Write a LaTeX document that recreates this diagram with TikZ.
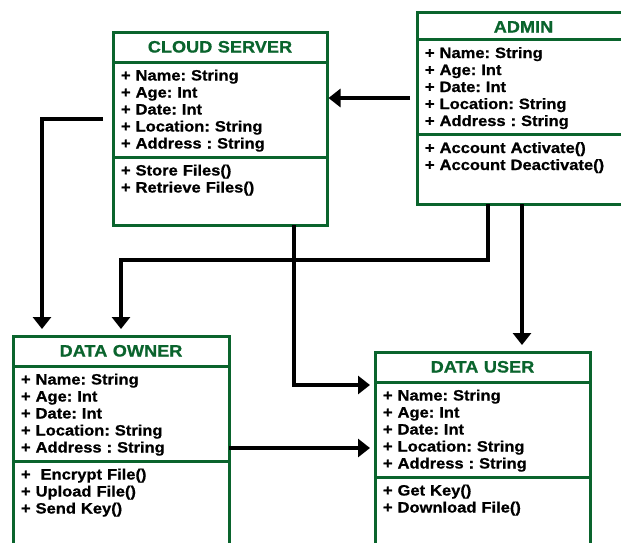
\documentclass[tikz,border=0pt]{standalone}
\usepackage{fontspec}
\setmainfont{Liberation Sans}[FakeStretch=1.1, BoldFeatures={FakeBold=0.8}]
\usetikzlibrary{arrows.meta,positioning}
\definecolor{umlgreen}{RGB}{10,100,45}
\frenchspacing

\begin{document}
\begin{tikzpicture}[
    x=1pt, y=-1pt,
    node distance=0pt,
    box/.style={draw=umlgreen, line width=3pt, outer sep=0pt, inner xsep=8pt, inner ysep=0pt, fill=white},
    classtitle/.style={box, align=center, text=umlgreen, font=\fontsize{16.5}{18}\selectfont\bfseries, text height=20.5pt, text depth=9.5pt},
    members/.style={box, align=left, font=\fontsize{15}{17}\selectfont\bfseries, text height=18.5pt, text depth=#1},
    link/.style={draw, line width=3.5pt, -{Triangle[width=18pt,length=12pt]}}
]
\useasboundingbox (0,0) rectangle (621,542);
\clip (0,0) rectangle (621,542);

% cloud server
\node[classtitle, text width=198pt, anchor=north west] (cloudT) at (113,32) {CLOUD SERVER};
\node[members=76.5pt, text width=198pt, below=of cloudT] (cloudA)
    {+ Name: String\\+ Age: Int\\+ Date: Int\\+ Location: String\\+ Address : String};
\node[members=49.5pt, text width=198pt, below=of cloudA] (cloudM)
    {+ Store Files()\\+ Retrieve Files()};

% admin
\node[classtitle, text width=197pt, text depth=7pt, anchor=north west] (adminT) at (417,12) {ADMIN};
\node[members=76.5pt, text width=197pt, below=of adminT] (adminA)
    {+ Name: String\\+ Age: Int\\+ Date: Int\\+ Location: String\\+ Address : String};
\node[members=51pt, text width=197pt, below=of adminA] (adminM)
    {+ Account Activate()\\+ Account Deactivate()};

% data owner
\node[classtitle, text width=200pt, anchor=north west] (ownerT) at (13,336) {DATA OWNER};
\node[members=76.5pt, text width=200pt, below=of ownerT] (ownerA)
    {+ Name: String\\+ Age: Int\\+ Date: Int\\+ Location: String\\+ Address : String};
\node[members=100pt, text width=200pt, below=of ownerA] (ownerM)
    {+\ \ Encrypt File()\\+ Upload File()\\+ Send Key()};

% data user
\node[classtitle, text width=199pt, anchor=north west] (userT) at (375,352) {DATA USER};
\node[members=76.5pt, text width=199pt, below=of userT] (userA)
    {+ Name: String\\+ Age: Int\\+ Date: Int\\+ Location: String\\+ Address : String};
\node[members=100pt, text width=199pt, below=of userA] (userM)
    {+ Get Key()\\+ Download File()};

% connectors
\coordinate (adminIn) at (410,98);
\coordinate (cloudOut) at (103,119);
\path ([xshift=105pt]adminM.south west) coordinate (adminOut);
\path ([yshift=-34.5pt]ownerA.east) coordinate (ownerOut);

\draw[link, shorten >=1.5pt] (adminIn) -- (adminIn -| cloudA.east);
\draw[link, shorten >=7pt] (cloudOut) -| ([xshift=29pt]ownerT.north west);
\draw[link, shorten >=7pt] ([xshift=71pt]adminM.south west) -- ++(0,56) -| ([xshift=108pt]ownerT.north west);
\draw[link, shorten >=5pt] ([xshift=181pt]cloudM.south west) |- ([yshift=-3pt]userA.north west);
\draw[link, shorten >=7pt] (adminOut) -- (adminOut |- userT.north);
\draw[link, shorten >=5pt] (ownerOut) -- (ownerOut -| userA.west);

\end{tikzpicture}
\end{document}
